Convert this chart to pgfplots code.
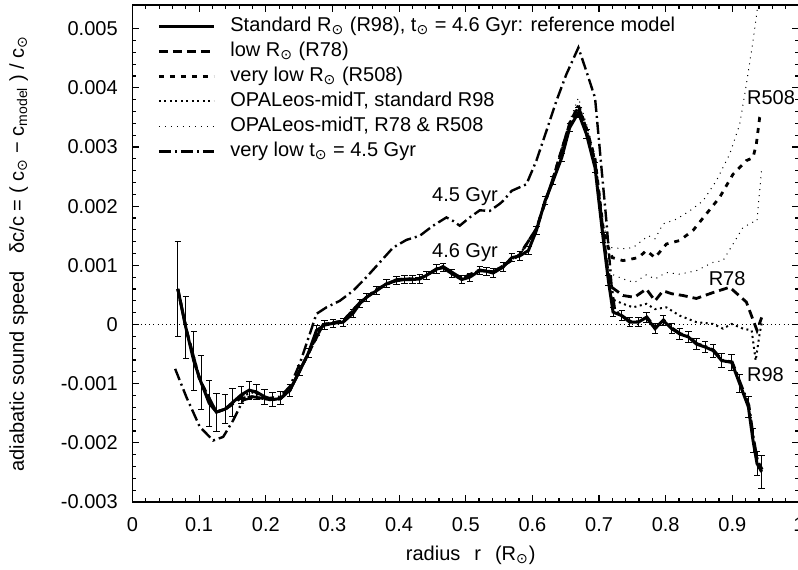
\documentclass[border=0pt]{standalone}
\usepackage{fontspec}
\setmainfont{Liberation Sans}
\newfontfamily\symfont{DejaVu Sans}
\newcommand\sun{\textsubscript{\symfont ⊙}}
\usepackage{pgfplots}
\pgfplotsset{compat=1.18}
\usepackage{pgfplotstable}

% solid reference model (units of 1e-3), with observational errors
\pgfplotstableread{
r v e
0.068 0.60 0.80
0.080 -0.05 0.53
0.092 -0.62 0.50
0.103 -0.98 0.45
0.115 -1.33 0.39
0.126 -1.48 0.32
0.139 -1.43 0.25
0.150 -1.32 0.24
0.163 -1.19 0.15
0.175 -1.11 0.15
0.186 -1.14 0.13
0.198 -1.22 0.13
0.210 -1.27 0.12
0.222 -1.25 0.11
0.236 -1.11 0.10
0.251 -0.78 0.09
0.264 -0.48 0.08
0.276 -0.10 0.08
0.288 -0.01 0.07
0.301 0.02 0.07
0.316 0.04 0.07
0.331 0.19 0.07
0.341 0.35 0.07
0.351 0.46 0.07
0.366 0.57 0.07
0.381 0.69 0.07
0.396 0.74 0.07
0.408 0.76 0.07
0.420 0.76 0.07
0.431 0.77 0.07
0.441 0.83 0.07
0.456 0.94 0.07
0.466 0.96 0.07
0.479 0.86 0.07
0.494 0.76 0.07
0.506 0.80 0.07
0.521 0.91 0.07
0.531 0.90 0.07
0.541 0.87 0.07
0.556 0.97 0.07
0.569 1.13 0.07
0.581 1.16 0.07
0.594 1.25 0.07
0.606 1.59 0.07
0.619 2.09 0.07
0.631 2.43 0.07
0.644 2.82 0.07
0.656 3.33 0.07
0.669 3.58 0.08
0.681 3.22 0.08
0.694 2.65 0.08
0.706 1.47 0.08
0.714 0.74 0.08
0.721 0.21 0.08
0.734 0.15 0.08
0.746 0.04 0.08
0.759 0.04 0.08
0.771 0.12 0.08
0.784 -0.07 0.09
0.796 0.07 0.09
0.809 -0.07 0.09
0.821 -0.16 0.09
0.834 -0.21 0.09
0.846 -0.33 0.10
0.859 -0.38 0.10
0.871 -0.44 0.11
0.884 -0.61 0.12
0.899 -0.64 0.13
0.911 -1.00 0.15
0.924 -1.39 0.18
0.931 -1.96 0.20
0.937 -2.35 0.21
0.944 -2.49 0.28
}\standard

\begin{document}
\fontsize{10}{12}\selectfont
\begin{tikzpicture}
\begin{axis}[
  scale only axis,
  width=333.25pt, height=248.5pt,
  xmin=0, xmax=1, ymin=-3, ymax=5.4,
  xtick={0,0.1,...,1},
  ytick={-3,-2,...,5},
  yticklabels={-0.003,-0.002,-0.001,0,0.001,0.002,0.003,0.004,0.005},
  minor x tick num=4, minor y tick num=4,
  tick align=inside,
  major tick length=3.5pt, minor tick length=2pt,
  axis line style={line width=0.6pt},
  every tick/.style={black, line width=0.6pt},
  /pgf/number format/assume math mode=true,
  yticklabel style={xshift=-3.9pt},
  xticklabel style={anchor=base, yshift=-14.85pt},
  xlabel={radius\hspace{7pt}r\hspace{7pt}(R\sun)},
  xlabel style={at={(axis description cs:0.5,0)}, anchor=base, yshift=-29pt, xshift=2.5pt},
  ylabel={adiabatic sound speed\hspace{9pt}δc/c = ( c\sun\ − c\textsubscript{model} ) / c\sun},
  ylabel style={at={(axis description cs:-0.1628,0.5)}, anchor=base},
  legend cell align=left,
  legend image code/.code={\draw[#1] (0pt,0pt) -- (27.5pt,0pt);},
  legend style={at={(0,1)}, anchor=north west, xshift=12.25pt, yshift=-5.9pt,
    draw=none, fill=none, inner sep=0pt, row sep=3.3pt, column sep=7.5pt,
    nodes={inner sep=0pt, text height=7.2pt, text depth=2pt}},
]
\addplot[forget plot, black, line width=0.4pt, dash pattern=on 0.5pt off 1.6pt] coordinates {(0,0) (1,0)};

\addplot[black, line width=1.5pt,
  error bars/.cd, y dir=both, y explicit,
  error bar style={line width=0.5pt, solid},
  error mark options={rotate=90, mark size=1.6pt, line width=0.5pt}]
  table[x=r, y=v, y error=e] {\standard};
\addlegendentry{Standard R\sun\ (R98), t\sun\ = 4.6 Gyr: reference model}

\addplot[black, line width=1.4pt, dash pattern=on 4.5pt off 2.5pt] coordinates {
(0.068,0.60) (0.081,-0.10) (0.101,-0.94) (0.126,-1.48) (0.141,-1.42) (0.161,-1.25)
(0.180,-1.22) (0.206,-1.27) (0.221,-1.26) (0.236,-1.12) (0.251,-0.78) (0.266,-0.44)
(0.286,0.00) (0.316,0.06) (0.341,0.37) (0.366,0.59) (0.396,0.76) (0.431,0.78)
(0.466,0.98) (0.494,0.78) (0.521,0.92) (0.541,0.89) (0.556,0.99) (0.581,1.18)
(0.606,1.62) (0.631,2.47) (0.656,3.40) (0.669,3.68) (0.681,3.30) (0.694,2.75)
(0.706,1.58) (0.712,1.00) (0.719,0.63) (0.736,0.49) (0.753,0.46) (0.771,0.60)
(0.784,0.40) (0.796,0.57) (0.809,0.52) (0.826,0.49) (0.846,0.44) (0.871,0.54)
(0.896,0.63) (0.921,0.38) (0.937,-0.10) (0.944,0.12)};
\addlegendentry{low R\sun\ (R78)}

\addplot[black, line width=1.4pt, dash pattern=on 2.5pt off 3pt] coordinates {
(0.068,0.60) (0.081,-0.10) (0.101,-0.94) (0.126,-1.48) (0.141,-1.42) (0.161,-1.25)
(0.180,-1.22) (0.206,-1.27) (0.221,-1.26) (0.236,-1.12) (0.251,-0.78) (0.266,-0.44)
(0.286,0.00) (0.316,0.06) (0.341,0.37) (0.366,0.59) (0.396,0.76) (0.431,0.78)
(0.466,0.98) (0.494,0.78) (0.521,0.92) (0.541,0.89) (0.556,0.99) (0.581,1.18)
(0.606,1.62) (0.631,2.47) (0.656,3.40) (0.669,3.70) (0.681,3.32) (0.694,2.80)
(0.706,1.65) (0.714,1.30) (0.720,1.13) (0.736,1.08) (0.759,1.13) (0.771,1.25)
(0.784,1.13) (0.801,1.36) (0.821,1.42) (0.841,1.59) (0.861,1.87) (0.881,2.15)
(0.901,2.54) (0.921,2.77) (0.931,2.82) (0.936,3.05) (0.941,3.50) (0.944,3.56)};
\addlegendentry{very low R\sun\ (R508)}

\addplot[black, line width=1pt, dash pattern=on 1pt off 1.75pt] coordinates {
(0.068,0.60) (0.081,-0.10) (0.101,-0.94) (0.126,-1.48) (0.141,-1.42) (0.161,-1.22)
(0.180,-1.15) (0.206,-1.26) (0.221,-1.25) (0.236,-1.11) (0.251,-0.78) (0.266,-0.44)
(0.286,0.00) (0.316,0.06) (0.341,0.37) (0.366,0.59) (0.396,0.76) (0.431,0.78)
(0.466,0.98) (0.494,0.78) (0.521,0.92) (0.541,0.89) (0.556,0.99) (0.581,1.18)
(0.606,1.62) (0.631,2.47) (0.656,3.40) (0.669,3.72) (0.681,3.32) (0.694,2.75)
(0.706,1.58) (0.714,0.80) (0.719,0.43) (0.736,0.35) (0.751,0.29) (0.771,0.35)
(0.784,0.26) (0.801,0.29) (0.821,0.15) (0.846,0.04) (0.871,0.01) (0.886,-0.07)
(0.899,0.01) (0.916,-0.07) (0.929,-0.10) (0.935,-0.61) (0.941,-0.15) (0.945,0.07)};
\addlegendentry{OPALeos-midT, standard R98}

\addplot[black, line width=0.5pt, dash pattern=on 0.5pt off 2.5pt] coordinates {
(0.068,0.60) (0.081,-0.10) (0.101,-0.94) (0.126,-1.48) (0.141,-1.42) (0.161,-1.22)
(0.180,-1.15) (0.206,-1.26) (0.221,-1.25) (0.236,-1.11) (0.251,-0.78) (0.266,-0.44)
(0.286,0.00) (0.316,0.06) (0.341,0.37) (0.366,0.59) (0.396,0.76) (0.431,0.78)
(0.466,0.98) (0.494,0.78) (0.521,0.92) (0.541,0.89) (0.556,0.99) (0.581,1.18)
(0.606,1.62) (0.631,2.50) (0.656,3.45) (0.669,3.83) (0.681,3.40) (0.694,2.85)
(0.706,1.70) (0.714,1.40) (0.719,1.30) (0.736,1.28) (0.751,1.30) (0.774,1.50)
(0.784,1.45) (0.796,1.70) (0.816,1.78) (0.836,1.92) (0.856,2.09) (0.876,2.43)
(0.896,2.88) (0.911,3.38) (0.921,4.06) (0.931,4.79) (0.939,5.46)};
\addlegendentry{OPALeos-midT, R78 \& R508}

\addplot[forget plot, black, line width=0.5pt, dash pattern=on 0.5pt off 2.5pt] coordinates {
(0.706,1.62) (0.714,1.05) (0.719,0.85) (0.736,0.77) (0.753,0.71) (0.771,0.84)
(0.784,0.77) (0.801,0.88) (0.821,0.85) (0.846,0.91) (0.871,1.05) (0.886,1.08)
(0.901,1.36) (0.916,1.64) (0.934,1.75) (0.937,1.75) (0.944,2.65)};

\addplot[black, line width=1.2pt, dash pattern=on 6pt off 2pt on 1pt off 2pt] coordinates {
(0.064,-0.75) (0.081,-1.23) (0.101,-1.73) (0.121,-1.96) (0.136,-1.90) (0.151,-1.62)
(0.166,-1.28) (0.181,-1.23) (0.200,-1.25) (0.221,-1.22) (0.236,-1.05) (0.251,-0.66)
(0.266,-0.16) (0.276,0.18) (0.291,0.29) (0.311,0.40) (0.331,0.57) (0.351,0.80)
(0.371,1.05) (0.391,1.30) (0.411,1.43) (0.431,1.50) (0.451,1.67) (0.471,1.81)
(0.481,1.75) (0.491,1.67) (0.506,1.81) (0.521,1.93) (0.536,1.92) (0.551,2.04)
(0.556,2.09) (0.569,2.26) (0.591,2.37) (0.606,2.77) (0.621,3.27) (0.636,3.78)
(0.651,4.23) (0.669,4.68) (0.681,4.28) (0.694,3.83) (0.704,2.60) (0.711,1.75)
(0.719,0.63) (0.724,0.24) (0.736,0.14) (0.748,0.05) (0.760,0.05) (0.772,0.13)
(0.785,-0.06) (0.797,0.08) (0.810,-0.06) (0.822,-0.15) (0.835,-0.20) (0.847,-0.32)
(0.860,-0.37) (0.872,-0.43) (0.885,-0.60) (0.900,-0.63) (0.912,-0.98) (0.925,-1.36)
(0.932,-1.92) (0.938,-2.30) (0.945,-2.45)};
\addlegendentry{very low t\sun\ = 4.5 Gyr}

\node[anchor=west, inner sep=0pt] at (axis cs:0.449,2.16) {4.5 Gyr};
\node[anchor=west, inner sep=0pt] at (axis cs:0.449,1.21) {4.6 Gyr};
\node[anchor=west, inner sep=0pt] at (axis cs:0.9215,3.83) {R508};
\node[anchor=west, inner sep=0pt] at (axis cs:0.864,0.78) {R78};
\node[anchor=west, inner sep=0pt] at (axis cs:0.9215,-0.85) {R98};
\end{axis}
\pgfresetboundingbox
\useasboundingbox (current axis.south west) ++(-66.25pt,-33.5pt) rectangle ++(399pt,284.5pt);
\end{tikzpicture}
\end{document}
